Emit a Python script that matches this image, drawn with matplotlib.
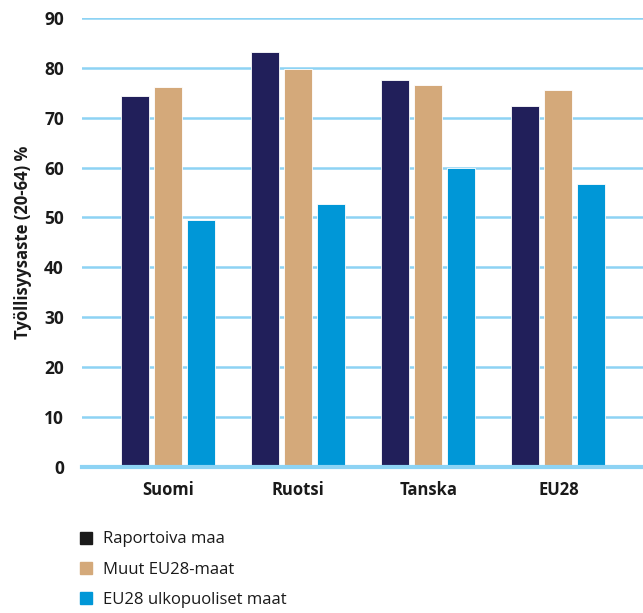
import numpy as np
import matplotlib.pyplot as plt
from matplotlib.patches import Patch

maat = ["Suomi", "Ruotsi", "Tanska", "EU28"]
raportoiva = [74.4, 83.1, 77.6, 72.3]
muut_eu = [76.1, 79.7, 76.5, 75.5]
ulkopuoliset = [49.5, 52.7, 60.0, 56.8]
sarjat = ["Raportoiva maa", "Muut EU28-maat", "EU28 ulkopuoliset maat"]
yticks = [0, 10, 20, 30, 40, 50, 60, 70, 80, 90]

plt.rcParams['font.family'] = ['Open Sans', 'DejaVu Sans']

fig = plt.figure(figsize=(6.43, 6.13), dpi=100)
ax = fig.add_axes([0.1275, 0.238, 0.8725, 0.733])

x = np.arange(len(maat))
w = 0.215
off = 0.254
ax.bar(x - off, raportoiva, w, color="#211f5a", edgecolor="white", linewidth=0.6, zorder=3)
ax.bar(x, muut_eu, w, color="#d4a97a", edgecolor="white", linewidth=0.6, zorder=3)
ax.bar(x + off, ulkopuoliset, w, color="#0097d7", edgecolor="white", linewidth=0.6, zorder=3)

ax.set_xlim(-0.66, 3.65)
ax.set_ylim(0, 90)
ax.set_yticks(yticks)
ax.yaxis.grid(True, color="#8dd3f4", linewidth=1.8, zorder=0)
ax.set_axisbelow(True)
for s in ["top", "right", "left"]:
    ax.spines[s].set_visible(False)
ax.spines["bottom"].set_color("#8dd3f4")
ax.spines["bottom"].set_linewidth(3)
ax.spines["bottom"].set_zorder(4)

ax.set_xticks(x)
ax.set_xticklabels(maat, fontsize=12, fontweight="bold", color="#1a1a1a")
ax.tick_params(axis="x", length=0, pad=10)
ax.tick_params(axis="y", length=0, pad=13, labelsize=12.5, labelcolor="#1a1a1a")
for t in ax.get_yticklabels():
    t.set_fontweight("bold")

ax.set_ylabel("Työllisyysaste (20-64) %", fontsize=12, fontweight="bold", color="#1a1a1a", labelpad=9)

handles = [Patch(color=c) for c in ["#1a1a1a", "#d4a97a", "#0097d7"]]
fig.legend(handles, sarjat, loc="lower left", bbox_to_anchor=(0.101, -0.016), frameon=False,
           fontsize=12, handlelength=0.75, handleheight=0.75, handletextpad=0.65, labelspacing=0.85,
           labelcolor="#1a1a1a")

fig.savefig("out.png", dpi=100)
